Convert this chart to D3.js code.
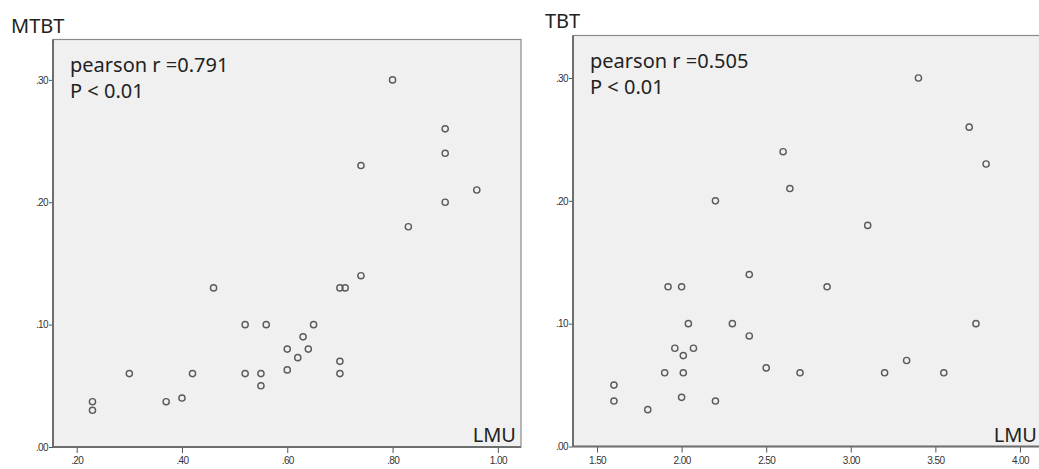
<!DOCTYPE html>
<html>
<head>
<meta charset="utf-8">
<script src="https://d3js.org/d3.v7.min.js"></script>
<style>
    body { margin: 0; background: #ffffff; }
    svg { display: block; }
    .tick text { font-family: "Liberation Sans", Arial, sans-serif; font-size: 10px; fill: #333; letter-spacing: -0.6px; }
    .tick line { stroke: #555; }
    .big { font-family: "Noto Sans", sans-serif; font-size: 20px; fill: #222; }
</style>
</head>
<body>
<svg id="chart" width="1039" height="469"></svg>
<script>
// left panel: MTBT vs LMU
var mtbtLmu = [0.23, 0.23, 0.30, 0.37, 0.40, 0.42, 0.46, 0.52, 0.56, 0.52,
               0.55, 0.55, 0.80, 0.90, 0.90, 0.74, 0.96, 0.90, 0.83, 0.74,
               0.70, 0.71, 0.65, 0.63, 0.60, 0.64, 0.62, 0.60, 0.70, 0.70];
var mtbtVal = [0.037, 0.030, 0.060, 0.037, 0.040, 0.060, 0.130, 0.100, 0.100, 0.060,
               0.060, 0.050, 0.300, 0.260, 0.240, 0.230, 0.210, 0.200, 0.180, 0.140,
               0.130, 0.130, 0.100, 0.090, 0.080, 0.080, 0.073, 0.063, 0.070, 0.060];

// right panel: TBT vs LMU
var tbtLmu = [2.60, 2.64, 2.20, 2.40, 1.92, 2.00, 2.04, 2.30, 2.40, 1.96,
              2.07, 2.01, 1.90, 2.01, 2.50, 2.70, 1.60, 1.60, 1.80, 2.00,
              2.20, 3.40, 3.70, 3.80, 3.10, 2.86, 3.74, 3.20, 3.33, 3.55];
var tbtVal = [0.240, 0.210, 0.200, 0.140, 0.130, 0.130, 0.100, 0.100, 0.090, 0.080,
              0.080, 0.074, 0.060, 0.060, 0.064, 0.060, 0.050, 0.037, 0.030, 0.040,
              0.037, 0.300, 0.260, 0.230, 0.180, 0.130, 0.100, 0.060, 0.070, 0.060];

var yTicks = [0, 0.10, 0.20, 0.30];
var mtbtXTicks = [0.20, 0.40, 0.60, 0.80, 1.00];
var tbtXTicks = [1.50, 2.00, 2.50, 3.00, 3.50, 4.00];

var svg = d3.select("#chart");
var svgWidth = 1039;

function spssFormat(v) {
    var s = d3.format(".2f")(v);
    return v < 1 ? s.replace(/^0/, "") : s;
}

function drawPanel(p) {
    var g = svg.append("g");

    var xScale = d3.scaleLinear().domain(p.xDomain).range([p.left, p.right]);
    var yScale = d3.scaleLinear().domain(p.yDomain).range([p.bottom, p.top]);

    // plot area
    g.append("rect")
        .attr("x", p.left)
        .attr("y", p.top)
        .attr("width", p.right - p.left)
        .attr("height", p.bottom - p.top)
        .attr("fill", "#f0f0f0")
        .attr("stroke", "#8a8a8a")
        .attr("stroke-width", 1.2);

    // axes
    var xAxis = d3.axisBottom(xScale)
        .tickValues(p.xTicks)
        .tickSize(6)
        .tickPadding(4)
        .tickFormat(spssFormat);

    var yAxis = d3.axisLeft(yScale)
        .tickValues(yTicks)
        .tickSize(4)
        .tickPadding(1)
        .tickFormat(spssFormat);

    g.append("g")
        .attr("transform", "translate(0," + p.bottom + ")")
        .call(xAxis)
        .call(function (a) { a.select(".domain").remove(); });

    g.append("g")
        .attr("transform", "translate(" + p.left + ",0)")
        .call(yAxis)
        .call(function (a) { a.select(".domain").remove(); });

    // darker left and bottom axis lines
    g.append("line")
        .attr("x1", p.left).attr("x2", p.left)
        .attr("y1", p.top).attr("y2", p.bottom)
        .attr("stroke", "#6e6e6e").attr("stroke-width", 2);
    g.append("line")
        .attr("x1", p.left).attr("x2", p.right)
        .attr("y1", p.bottom).attr("y2", p.bottom)
        .attr("stroke", "#6e6e6e").attr("stroke-width", 2);

    // points
    g.selectAll(".pt")
        .data(p.xs)
        .enter()
        .append("circle")
        .attr("class", "pt")
        .attr("cx", function (d) { return xScale(d); })
        .attr("cy", function (d, i) { return yScale(p.ys[i]); })
        .attr("r", 3.1)
        .attr("fill", "none")
        .attr("stroke", "#5a5a5a")
        .attr("stroke-width", 1.4);

    // titles and notes
    g.append("text").attr("class", "big")
        .attr("x", p.titleX).attr("y", p.titleY)
        .text(p.title);

    g.append("text").attr("class", "big")
        .attr("x", p.left + 17).attr("y", p.top + 32)
        .text(p.note1);
    g.append("text").attr("class", "big")
        .attr("x", p.left + 17).attr("y", p.top + 58)
        .text(p.note2);

    // keep the axis name inside the window
    g.append("text").attr("class", "big")
        .attr("x", Math.min(p.right - 5, svgWidth - 2)).attr("y", p.bottom - 5)
        .attr("text-anchor", "end")
        .text("LMU");
}

drawPanel({
    title: "MTBT", titleX: 11, titleY: 33,
    note1: "pearson r =0.791", note2: "P < 0.01",
    left: 53, right: 521, top: 39.5, bottom: 447,
    xDomain: [0.155, 1.044], yDomain: [0, 0.333],
    xTicks: mtbtXTicks, xs: mtbtLmu, ys: mtbtVal
});

drawPanel({
    title: "TBT", titleX: 545, titleY: 28,
    note1: "pearson r =0.505", note2: "P < 0.01",
    left: 573, right: 1046, top: 35.5, bottom: 446.5,
    xDomain: [1.358, 4.154], yDomain: [0, 0.3346],
    xTicks: tbtXTicks, xs: tbtLmu, ys: tbtVal
});
</script>
</body>
</html>
